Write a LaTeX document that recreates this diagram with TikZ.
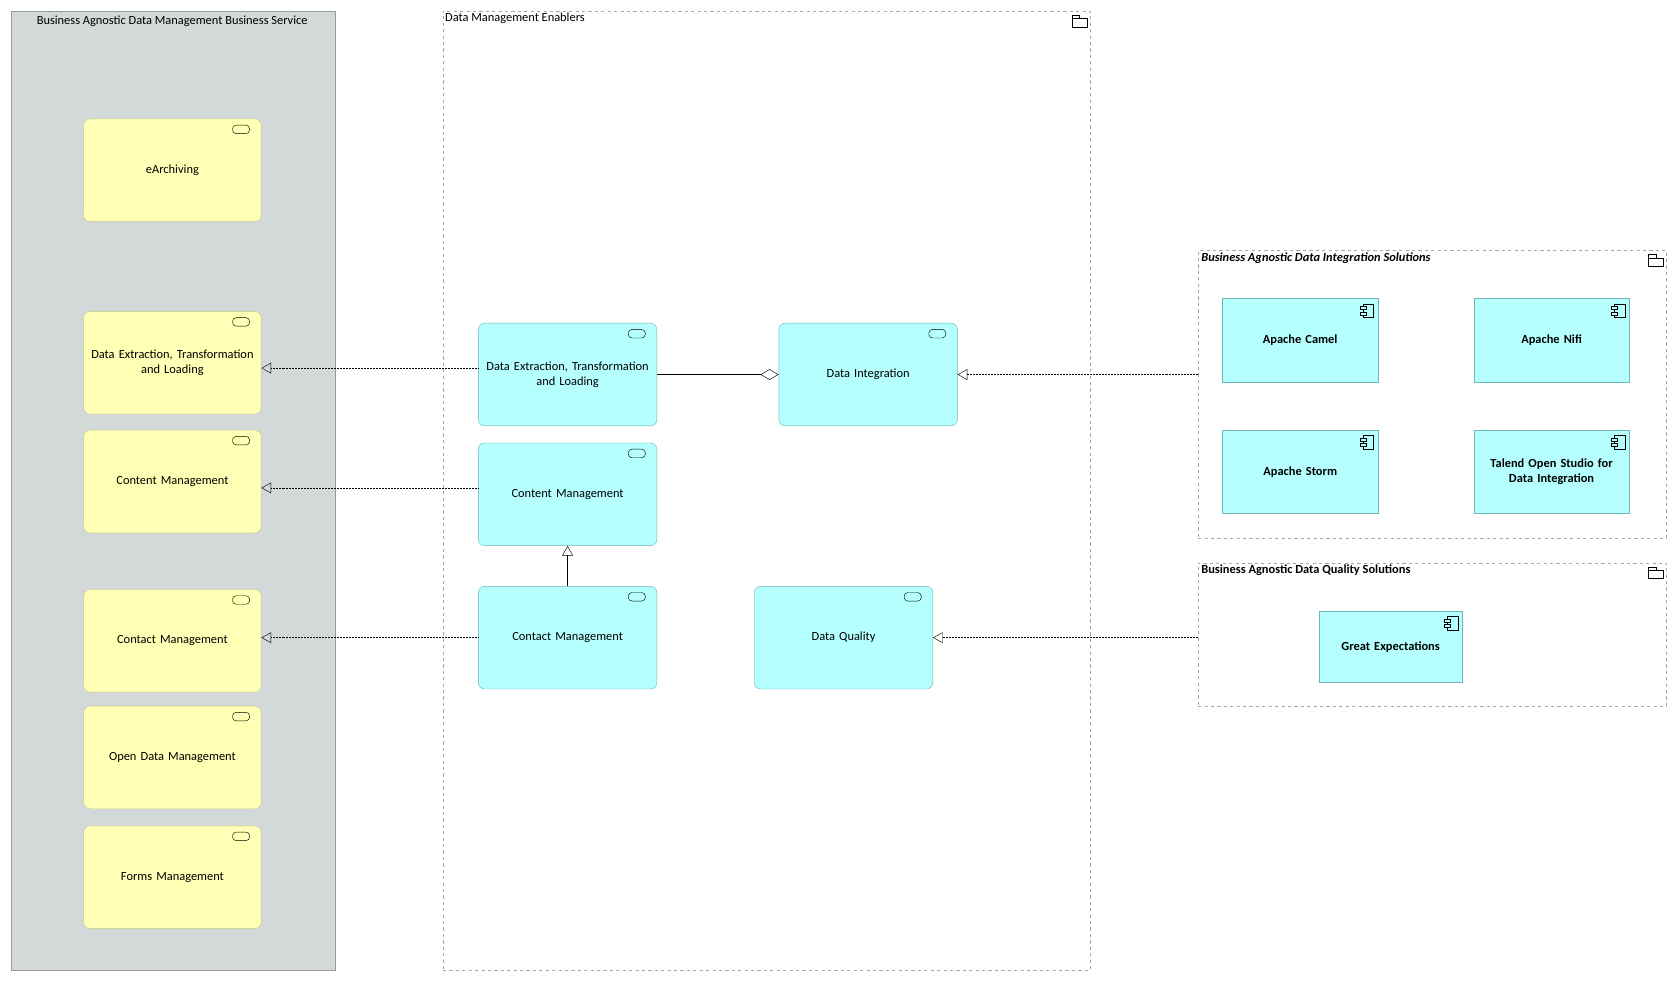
\documentclass[tikz,border=0pt]{standalone}
\usepackage{fontspec}
\setmainfont{Carlito}
\usetikzlibrary{positioning,arrows.meta,calc}
\definecolor{svcyellow}{HTML}{FFFFB5}
\definecolor{svcyeldraw}{HTML}{C8C88E}
\definecolor{appcyan}{HTML}{B5FFFF}
\definecolor{appdraw}{HTML}{6FB5B5}
\definecolor{grpgray}{HTML}{D3D8D8}
\tikzset{
    x=1pt, y=-1pt,
    every node/.style={font=\fontsize{11.6}{14}\selectfont},
    busvc/.style = {
        draw=svcyeldraw, fill=svcyellow, rounded corners=6pt,
        minimum width=166pt, minimum height=96pt, align=center,
        text width=162pt, inner sep=0pt, anchor=north west
    },
    appsvc/.style = {
        draw=appdraw, fill=appcyan, rounded corners=6pt,
        minimum width=167pt, minimum height=96pt, align=center,
        text width=162pt, inner sep=0pt, anchor=north west
    },
    comp/.style = {
        draw=appdraw, fill=appcyan,
        minimum width=145pt, minimum height=78pt, align=center,
        text width=140pt, inner sep=0pt, anchor=north west,
        font=\fontsize{11.6}{14}\selectfont\bfseries
    },
    grp/.style = {
        draw=gray!70, dashed, inner sep=0pt, anchor=north west
    },
    real/.style = {densely dotted, -{Triangle[open,length=9pt,width=10pt]}},
    aggr/.style = {{Diamond[open,length=17pt,width=10pt]}-},
    spec/.style = {-{Triangle[open,length=9pt,width=10pt]}},
}
\newcommand{\svcicon}[1]{%
  \draw[rounded corners=3.5pt] ($(#1.north east)+(-27,6)$) rectangle ($(#1.north east)+(-11,14)$);}
\newcommand{\compicon}[1]{%
  \draw ($(#1.north east)+(-14,5)$) rectangle ($(#1.north east)+(-4,18)$);
  \draw[fill=appcyan] ($(#1.north east)+(-17,7.5)$) rectangle ($(#1.north east)+(-11,10.5)$);
  \draw[fill=appcyan] ($(#1.north east)+(-17,12.5)$) rectangle ($(#1.north east)+(-11,15.5)$);}
\newcommand{\foldicon}[1]{%
  \draw ($(#1.north east)+(-17,7)$) rectangle ($(#1.north east)+(-3,15)$);
  \draw ($(#1.north east)+(-17,7)$) -- ++(0,-3) -- ++(7,0) -- ++(0,3);}
\begin{document}
\begin{tikzpicture}
    \useasboundingbox (0,0) rectangle (1568,917);
    % groups
    \node[draw=gray!80, fill=grpgray, minimum width=303pt, minimum height=897pt, inner sep=0pt, anchor=north west] (bsvc) at (10,10) {};
    \node[anchor=north] at (161,11) {Business Agnostic Data Management Business Service};
    \node[grp, minimum width=605pt, minimum height=897pt] (enab) at (414,10) {};
    \node[anchor=north west, inner sep=2pt] at (414,10) {Data Management Enablers};
    \foldicon{enab}
    \node[grp, minimum width=438pt, minimum height=269pt] (intsol) at (1120,234) {};
    \node[anchor=north west, inner sep=2pt, font=\fontsize{11.6}{14}\selectfont\bfseries\itshape] at (1121,234) {Business Agnostic Data Integration Solutions};
    \foldicon{intsol}
    \node[grp, minimum width=438pt, minimum height=134pt] (qualsol) at (1120,526) {};
    \node[anchor=north west, inner sep=2pt, font=\fontsize{11.6}{14}\selectfont\bfseries] at (1121,526) {Business Agnostic Data Quality Solutions};
    \foldicon{qualsol}

    % business services
    \node[busvc] (earch) at (78,111) {eArchiving};
    \node[busvc] (etlb) at (78,291) {Data Extraction, Transformation\\and Loading};
    \node[busvc] (contb) at (78,402) {Content Management};
    \node[busvc] (ctcb) at (78,551) {Contact Management};
    \node[busvc] (openb) at (78,660) {Open Data Management};
    \node[busvc] (formb) at (78,772) {Forms Management};
    \foreach \n in {earch,etlb,contb,ctcb,openb,formb} {\svcicon{\n}}

    % application services
    \node[appsvc] (etla) at (447,302) {Data Extraction, Transformation\\and Loading};
    \node[appsvc] (conta) at (447,414) {Content Management};
    \node[appsvc] (ctca) at (447,548) {Contact Management};
    \node[appsvc] (dint) at (728,302) {Data Integration};
    \node[appsvc] (dqual) at (705,548) {Data Quality};
    \foreach \n in {etla,conta,ctca,dint,dqual} {\svcicon{\n}}

    % components
    \node[comp] (camel) at (1143,279) {Apache Camel};
    \node[comp] (nifi) at (1378,279) {Apache Nifi};
    \node[comp] (storm) at (1143,402) {Apache Storm};
    \node[comp] (talend) at (1378,402) {Talend Open Studio for\\Data Integration};
    \node[comp, minimum width=134pt, minimum height=67pt, text width=128pt] (gexp) at (1233,571) {Great Expectations};
    \foreach \n in {camel,nifi,storm,talend,gexp} {\compicon{\n}}

    % relations
    \coordinate (etlw) at ([yshift=6pt]etla.west);
    \coordinate (contw) at ([yshift=6pt]conta.west);
    \draw[real] (etlw) -- (etlb.east |- etlw);
    \draw[real] (contw) -- (contb.east |- contw);
    \draw[real] (ctca.west) -- (ctcb.east |- ctca.west);
    \draw[aggr] (dint.west) -- (etla.east);
    \draw[spec] (ctca.north) -- (conta.south);
    \draw[real] (intsol.west |- dint.east) -- (dint.east);
    \draw[real] (qualsol.west |- dqual.east) -- (dqual.east);
\end{tikzpicture}
\end{document}
